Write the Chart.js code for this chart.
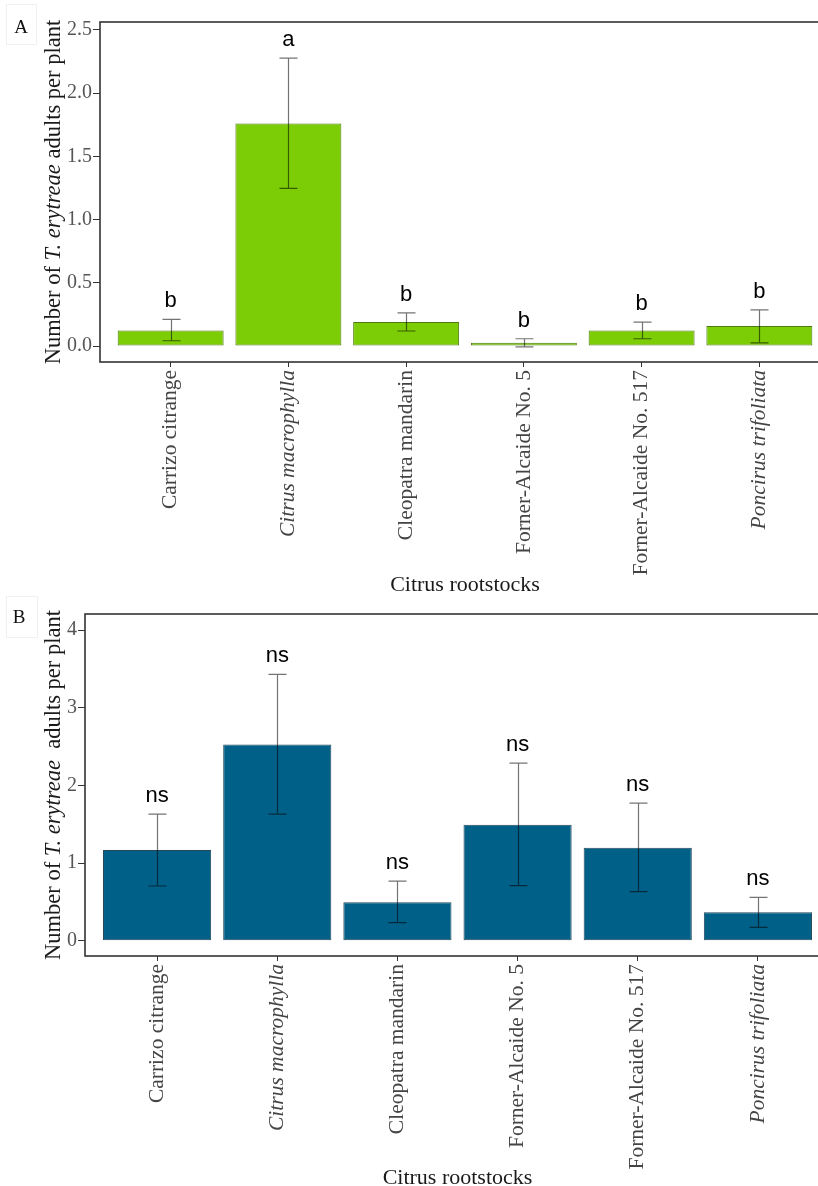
<!DOCTYPE html>
<html>
<head>
<meta charset="utf-8">
<script src="https://cdn.jsdelivr.net/npm/chart.js@4.4.1/dist/chart.umd.min.js"></script>
<style>
  html, body { margin: 0; padding: 0; background: #fff; overflow: hidden; }
  .wrap { width: 818px; height: 1186px; overflow: hidden; }
  canvas { display: block; }
</style>
</head>
<body>
<div class="wrap">
  <canvas id="chartA" width="850" height="595"></canvas>
  <canvas id="chartB" width="850" height="591"></canvas>
</div>
<script>
// categories
const rootstocks = [
  "Carrizo citrange",
  "Citrus macrophylla",
  "Cleopatra mandarin",
  "Forner-Alcaide No. 5",
  "Forner-Alcaide No. 517",
  "Poncirus trifoliata",
];
const italicNames = ["Citrus macrophylla", "Poncirus trifoliata"];

// panel A: mean, error bar ends, letters
const meanA = [0.124, 1.76, 0.19, 0.026, 0.124, 0.158];
const lowA = [0.042, 1.247, 0.119, -0.006, 0.058, 0.026];
const highA = [0.211, 2.277, 0.263, 0.058, 0.19, 0.287];
const lettersA = ["b", "a", "b", "b", "b", "b"];

// panel B
const meanB = [1.167, 2.527, 0.494, 1.493, 1.197, 0.365];
const lowB = [0.704, 1.63, 0.232, 0.708, 0.631, 0.172];
const highB = [1.63, 3.43, 0.768, 2.287, 1.772, 0.559];
const lettersB = ["ns", "ns", "ns", "ns", "ns", "ns"];

const SERIF = "'Liberation Serif', 'Times New Roman', serif";
const SANS = "'Liberation Sans', Arial, sans-serif";

// error bars, letters, frame, axis titles, panel tag
const decorPlugin = {
  id: "decor",
  afterDatasetsDraw(chart, args, opts) {
    const ctx = chart.ctx;
    const xs = chart.scales.x;
    const ys = chart.scales.y;
    const area = chart.chartArea;
    ctx.save();

    // whiskers
    ctx.strokeStyle = "rgba(0,0,0,0.55)";
    ctx.lineWidth = 1.2;
    opts.low.forEach((lo, i) => {
      const px = Math.round(xs.getPixelForValue(i)) + 0.5;
      const yLo = ys.getPixelForValue(lo);
      const yHi = ys.getPixelForValue(opts.high[i]);
      ctx.beginPath();
      ctx.moveTo(px, yLo);
      ctx.lineTo(px, yHi);
      ctx.moveTo(px - 9, yHi);
      ctx.lineTo(px + 9, yHi);
      ctx.moveTo(px - 9, yLo);
      ctx.lineTo(px + 9, yLo);
      ctx.stroke();
    });

    // significance letters
    ctx.fillStyle = "#000";
    ctx.font = "22px " + SANS;
    ctx.textAlign = "center";
    ctx.textBaseline = "middle";
    opts.letters.forEach((t, i) => {
      ctx.fillText(t, xs.getPixelForValue(i), ys.getPixelForValue(opts.high[i]) - 18);
    });

    // panel border
    ctx.strokeStyle = "#333";
    ctx.lineWidth = 1.6;
    ctx.strokeRect(area.left, area.top, area.right - area.left, area.bottom - area.top);

    // y title with italic species name
    const parts = opts.yTitle;
    const fontFor = (p) => (p.italic ? "italic " : "") + "22.5px " + SERIF;
    let total = 0;
    parts.forEach((p) => { ctx.font = fontFor(p); total += ctx.measureText(p.text).width; });
    ctx.translate(opts.yTitleX, (area.top + area.bottom) / 2);
    ctx.rotate(-Math.PI / 2);
    ctx.textAlign = "left";
    ctx.fillStyle = "#1a1a1a";
    let cx = -total / 2;
    parts.forEach((p) => {
      ctx.font = fontFor(p);
      ctx.fillText(p.text, cx, 0);
      cx += ctx.measureText(p.text).width;
    });
    ctx.setTransform(1, 0, 0, 1, 0, 0);

    // x title
    ctx.font = "22px " + SERIF;
    ctx.textAlign = "center";
    ctx.fillText(opts.xTitle, (area.left + area.right) / 2, opts.xTitleY);

    // panel tag
    ctx.strokeStyle = "#f0f0f0";
    ctx.lineWidth = 1;
    ctx.strokeRect(opts.tagBox[0], opts.tagBox[1], opts.tagBox[2], opts.tagBox[3]);
    ctx.fillStyle = "#111";
    ctx.font = "19px " + SERIF;
    ctx.fillText(opts.tag, opts.tagPos[0], opts.tagPos[1]);

    ctx.restore();
  },
};

function makeChart(id, cfg) {
  const canvas = document.getElementById(id);
  const points = cfg.means.map((v, i) => ({ x: i, y: v }));
  return new Chart(canvas, {
    type: "bar",
    data: {
      datasets: [{
        data: points,
        backgroundColor: cfg.fill,
        borderColor: cfg.edge,
        borderWidth: 1,
        borderSkipped: false,
        barPercentage: 0.9,
        categoryPercentage: 1.0,
      }],
    },
    plugins: [decorPlugin],
    options: {
      responsive: false,
      animation: false,
      layout: { padding: { top: cfg.top, right: 20, bottom: 0, left: 0 } },
      plugins: {
        legend: { display: false },
        tooltip: { enabled: false },
        decor: cfg.decor,
      },
      scales: {
        x: {
          type: "linear",
          min: -0.6,
          max: 5.6,
          offset: false,
          grid: { display: true, offset: false, drawOnChartArea: false, drawTicks: true, tickLength: 5, color: "#333" },
          border: { display: false },
          ticks: {
            stepSize: 1,
            includeBounds: false,
            autoSkip: false,
            maxRotation: 90,
            minRotation: 90,
            padding: 3,
            color: "#444",
            font: (c) => {
              const name = c.tick ? rootstocks[c.tick.value] : "";
              return { family: SERIF, size: 21.5, style: italicNames.includes(name) ? "italic" : "normal" };
            },
            callback: (v) => (rootstocks[v] !== undefined ? rootstocks[v] : ""),
          },
          afterFit: (s) => { s.height = cfg.xHeight; },
        },
        y: {
          min: cfg.yMin,
          max: cfg.yMax,
          grid: { display: true, drawOnChartArea: false, drawTicks: true, tickLength: 7, color: "#333" },
          border: { display: false },
          ticks: {
            stepSize: cfg.yStep,
            includeBounds: false,
            padding: 1,
            color: "#555",
            font: { family: SERIF, size: 20 },
            callback: (v) => v.toFixed(cfg.yDigits),
          },
          afterFit: (s) => { s.width = cfg.yWidth; },
        },
      },
    },
  });
}

makeChart("chartA", {
  means: meanA,
  fill: "#7ccd05",
  edge: "#4f7a12",
  top: 22,
  xHeight: 233,
  yWidth: 100,
  yMin: -0.126,
  yMax: 2.563,
  yStep: 0.5,
  yDigits: 1,
  decor: {
    low: lowA,
    high: highA,
    letters: lettersA,
    yTitle: [
      { text: "Number of ", italic: false },
      { text: "T. erytreae", italic: true },
      { text: " adults per plant", italic: false },
    ],
    yTitleX: 54,
    xTitle: "Citrus rootstocks",
    xTitleY: 585,
    tag: "A",
    tagPos: [21, 28],
    tagBox: [6.5, 4.5, 30, 40],
  },
});

makeChart("chartB", {
  means: meanB,
  fill: "#006088",
  edge: "#24485a",
  top: 19,
  xHeight: 230,
  yWidth: 85,
  yMin: -0.197,
  yMax: 4.206,
  yStep: 1,
  yDigits: 0,
  decor: {
    low: lowB,
    high: highB,
    letters: lettersB,
    yTitle: [
      { text: "Number of ", italic: false },
      { text: "T. erytreae", italic: true },
      { text: "  adults per plant", italic: false },
    ],
    yTitleX: 54,
    xTitle: "Citrus rootstocks",
    xTitleY: 583,
    tag: "B",
    tagPos: [19, 23],
    tagBox: [6.5, 1.5, 31, 41],
  },
});
</script>
</body>
</html>
